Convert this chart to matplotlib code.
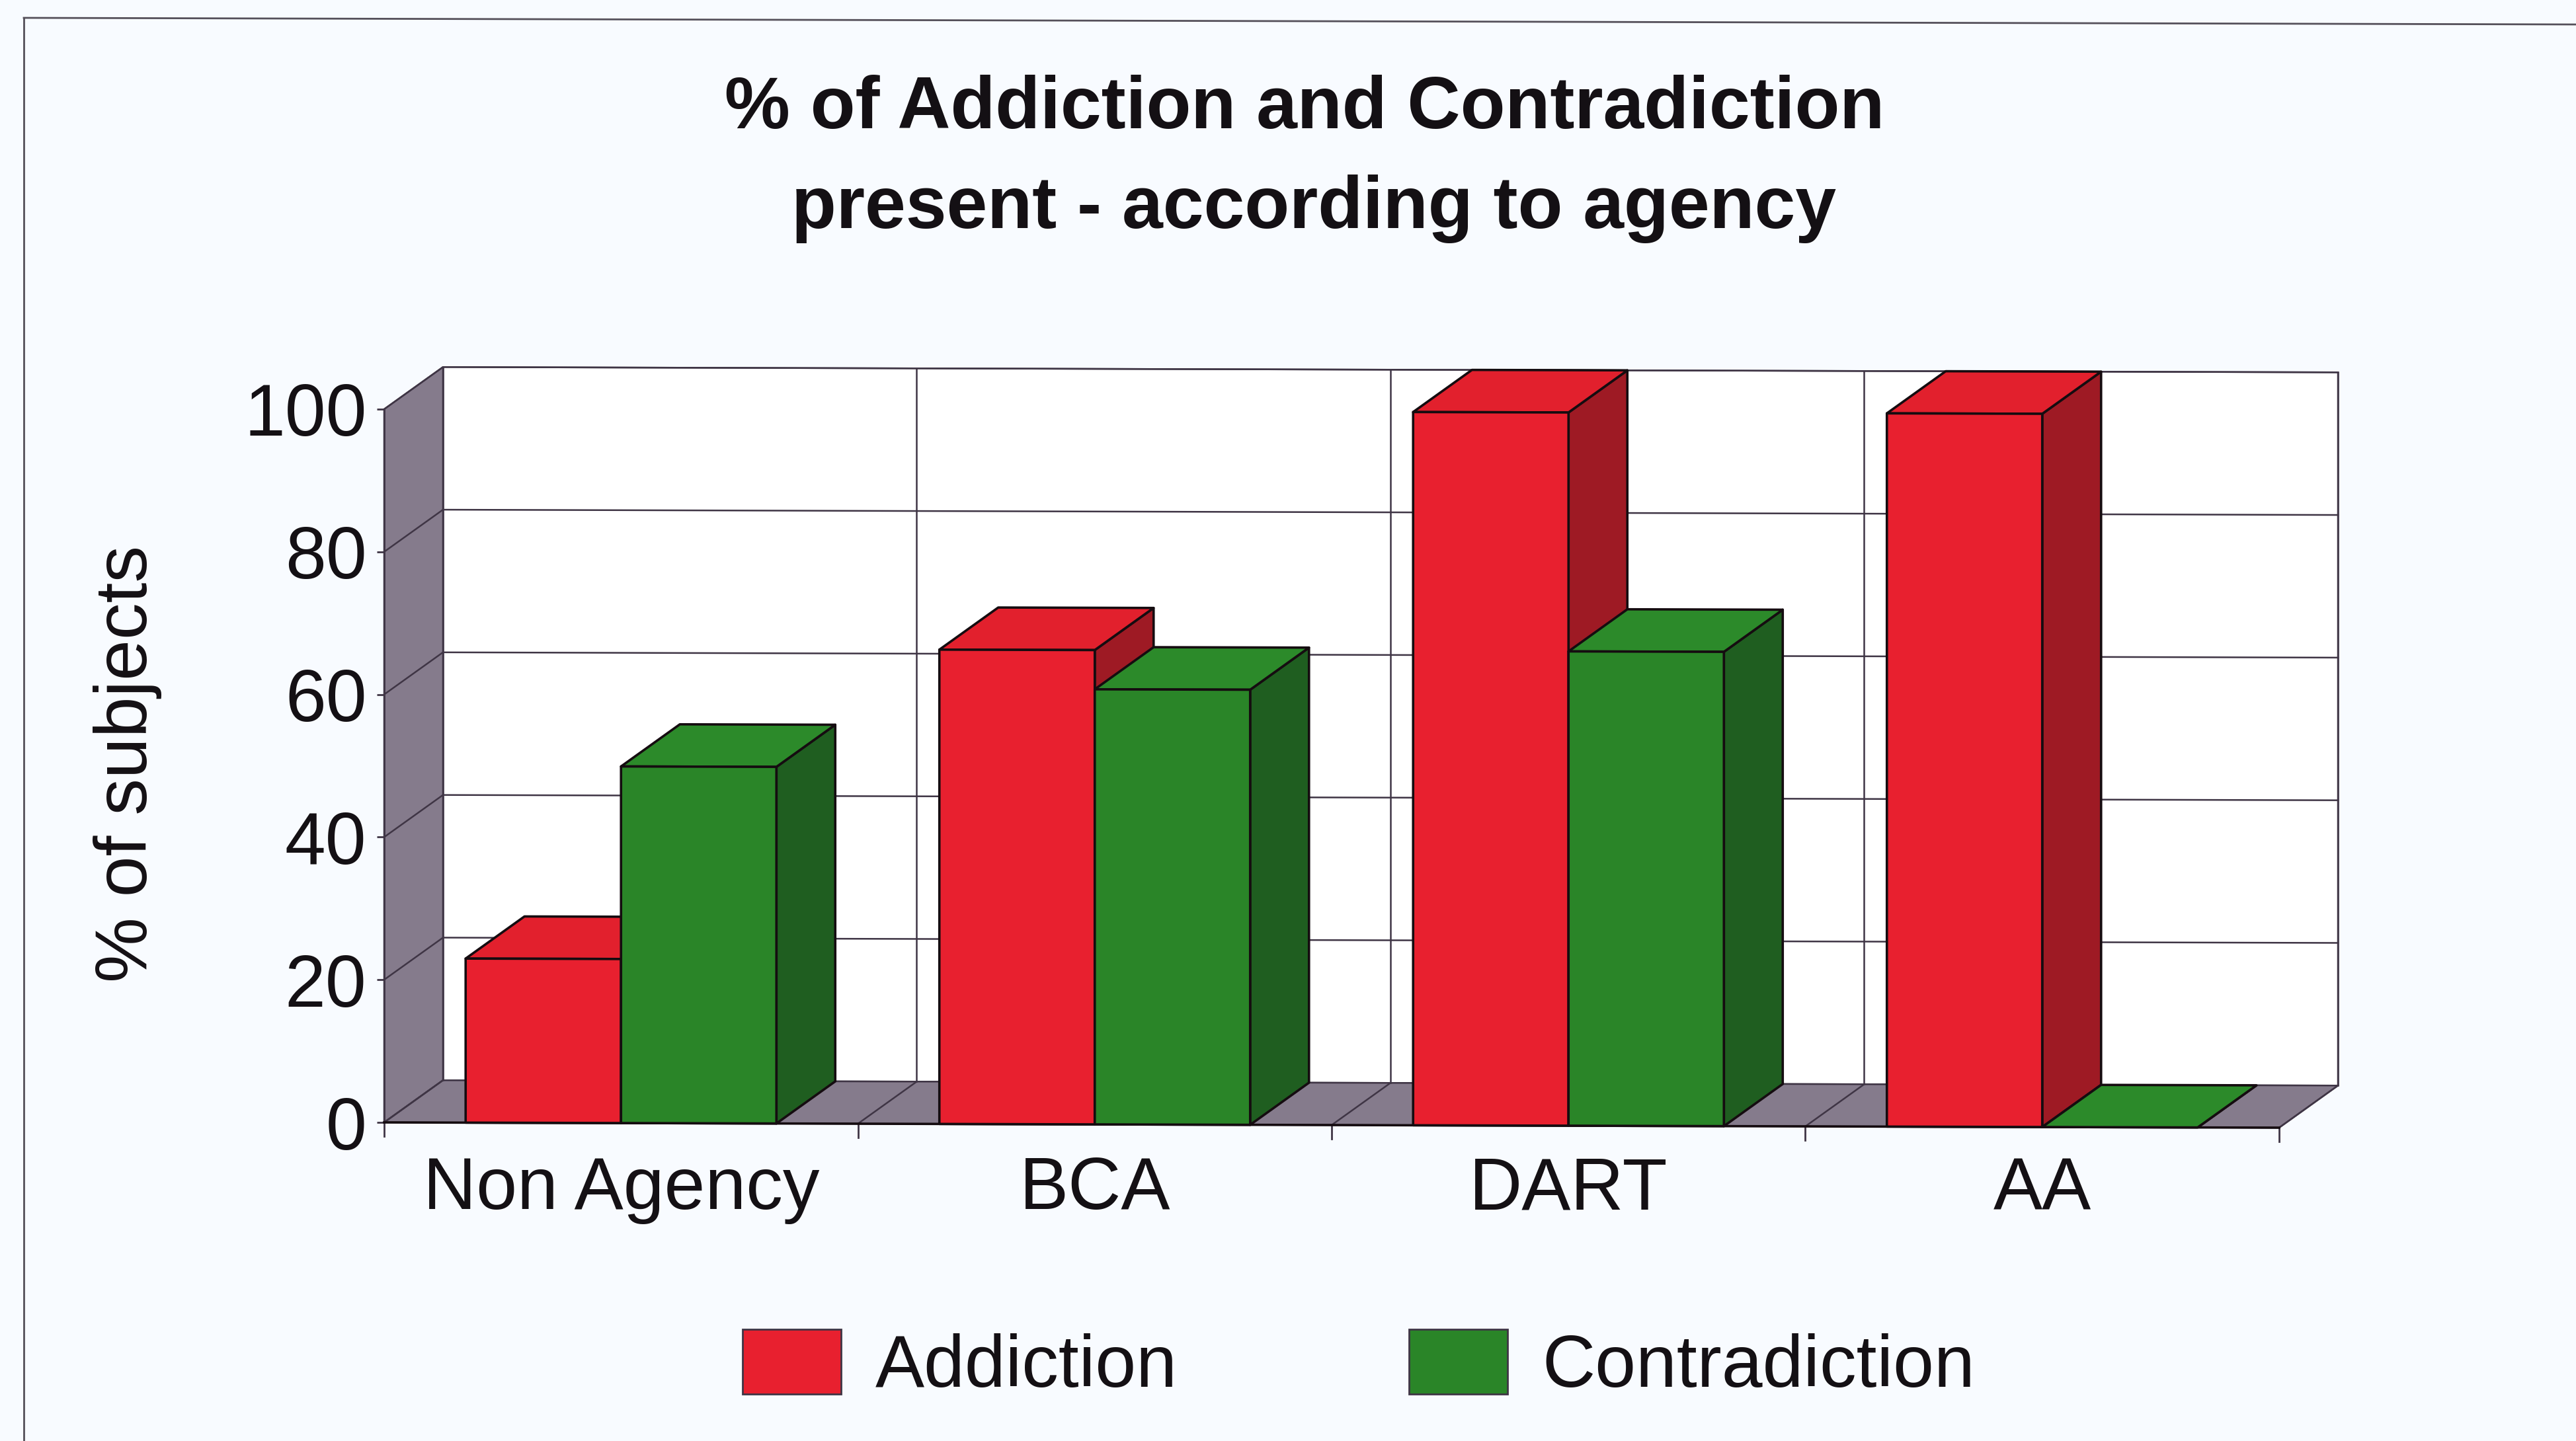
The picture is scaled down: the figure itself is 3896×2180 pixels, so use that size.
import matplotlib
matplotlib.use("Agg")
import matplotlib.pyplot as plt
from matplotlib.patches import Polygon, Patch
from matplotlib.transforms import Affine2D
from matplotlib.lines import Line2D

categories = ["Non Agency", "BCA", "DART", "AA"]
addiction = [23, 66.5, 100, 100]
contradiction = [50, 61, 66.5, 0]
y_ticks = [0, 20, 40, 60, 80, 100]
series_names = ["Addiction", "Contradiction"]

W, H = 3896, 2180
BG = "#F8FBFF"
GRID = "#3F3545"
EDGE = "#150C10"
WALL = "#857B8C"
RED, RED_TOP, RED_SIDE = "#E8202F", "#E2202D", "#9E1A24"
GREEN, GREEN_TOP, GREEN_SIDE = "#2A8528", "#2C8A2A", "#1F5E20"
FS = 80

plt.rcParams["font.family"] = ["Liberation Sans", "DejaVu Sans"]
fig = plt.figure(figsize=(W / 100, H / 100), dpi=100, facecolor=BG)
x0, x1, y0, y100 = 581, 3447, 1698, 619
ax = fig.add_axes([x0 / W, (H - y0) / H, (x1 - x0) / W, (y0 - y100) / H])
ax.set_xlim(0, 4)
ax.set_ylim(0, 100)
ax.patch.set_visible(False)
for s in ax.spines.values():
    s.set_visible(False)

# scan tilt applied to the drawing
tf = ax.transData + (Affine2D().translate(-x0, -(H - y0)).skew_deg(0, -0.16).translate(x0, H - y0))
DX, DY = 0.1242, 5.93      # 3D depth in data units
GAP, BW = 0.172, 0.328


def poly(pts, fc, ec=EDGE, lw=2.6, z=3):
    ax.add_patch(Polygon(pts, closed=True, facecolor=fc, edgecolor=ec, linewidth=lw,
                         transform=tf, clip_on=False, zorder=z, joinstyle="round"))


def line(xs, ys, color=GRID, lw=1.8, z=2):
    ax.add_line(Line2D(xs, ys, color=color, lw=lw, transform=tf, clip_on=False, zorder=z))


n = len(categories)
# walls and floor
poly([(DX, DY), (n + DX, DY), (n + DX, 100 + DY), (DX, 100 + DY)], "white", ec=GRID, lw=1.8, z=1)
poly([(0, 0), (DX, DY), (DX, 100 + DY), (0, 100)], WALL, ec=GRID, lw=1.8, z=1)
poly([(0, 0), (n, 0), (n + DX, DY), (DX, DY)], WALL, ec=GRID, lw=1.8, z=1)
# gridlines
for v in y_ticks[1:]:
    line([0, DX, n + DX], [v, v + DY, v + DY])
for i in range(n + 1):
    line([i, i + DX], [0, DY])
    line([i + DX, i + DX], [DY, 100 + DY])
    line([i, i], [0, -1.9], lw=2.0)
line([0, n], [0, 0], color=EDGE, lw=2.6, z=2.5)
line([0, 0], [0, 100], color=GRID, lw=2.0)


def bar(left, value, front, top, side, z):
    r = left + BW
    poly([(r, 0), (r + DX, DY), (r + DX, value + DY), (r, value)], side, z=z)
    poly([(left, value), (r, value), (r + DX, value + DY), (left + DX, value + DY)], top, z=z)
    if value > 0:
        poly([(left, 0), (r, 0), (r, value), (left, value)], front, z=z)


for i in range(n):
    bar(i + GAP, addiction[i], RED, RED_TOP, RED_SIDE, 3 + i)
    bar(i + GAP + BW, contradiction[i], GREEN, GREEN_TOP, GREEN_SIDE, 3.5 + i)

# axes texts
ax.set_xticks([i + 0.5 for i in range(n)], categories, fontsize=FS, color="#141014")
ax.tick_params(axis="x", length=0, pad=36)
ax.set_yticks(y_ticks, [str(v) for v in y_ticks], fontsize=FS, color="#141014")
ax.tick_params(axis="y", length=8, width=2.0, color=GRID, pad=11)
fig.text(193 / W, 1 - 1155 / H, "% of subjects", rotation=90, ha="center", va="center",
         fontsize=FS, color="#141014")

fig.text(1973 / W, 1 - 165 / H, "% of Addiction and Contradiction", ha="center", va="center",
         fontsize=80, fontweight="bold", color="#141014")
fig.text(1987 / W, 1 - 316 / H, "present - according to agency", ha="center", va="center",
         fontsize=80, fontweight="bold", color="#141014")

# legend
handles = [Patch(facecolor=RED, edgecolor=GRID, linewidth=2.0),
           Patch(facecolor=GREEN, edgecolor=GRID, linewidth=2.0)]
leg = fig.legend(handles, series_names, loc="center", bbox_to_anchor=(2055 / W, 1 - 2066 / H), ncol=2,
                 frameon=False, fontsize=FS, handlelength=1.34, handleheight=0.98, handletextpad=0.47,
                 columnspacing=3.15, labelcolor="#141014")

# scanned frame
fig.add_artist(Line2D([36 / W, 36 / W], [1 - 27 / H, 0], color="#55505A", lw=2.0, transform=fig.transFigure))
fig.add_artist(Line2D([36 / W, 1], [1 - 27 / H, 1 - 37 / H], color="#55505A", lw=2.0, transform=fig.transFigure))

fig.savefig("out.png", dpi=100, facecolor=BG)
